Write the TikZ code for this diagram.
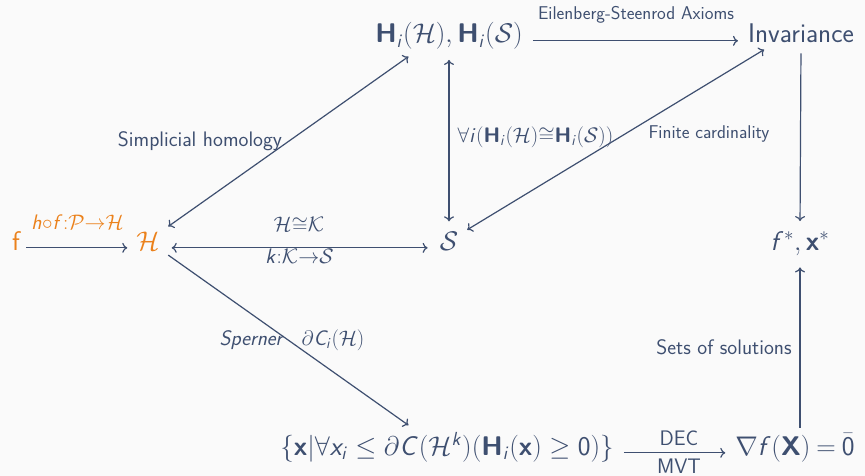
\RequirePackage{fix-cm}
\documentclass[tikz,border=0pt]{standalone}
\usepackage{amsmath}
\usetikzlibrary{arrows.meta}
\DeclareMathAlphabet{\msi}{OT1}{cmss}{m}{sl}
\DeclareMathAlphabet{\msb}{OT1}{cmss}{bx}{n}
\DeclareMathAlphabet{\msr}{OT1}{cmss}{m}{n}
\definecolor{txt}{HTML}{3E4F70}
\definecolor{org}{HTML}{EB811B}
\definecolor{bg}{HTML}{FAFAFA}
\begin{document}
\begin{tikzpicture}[x=1pt,y=-1pt,
  mainnode/.style={text=txt, font=\sffamily\fontsize{27}{32}\selectfont, inner sep=2pt, anchor=base},
  lbl/.style={text=txt, font=\sffamily\fontsize{21}{25}\selectfont, inner sep=1pt},
  slbl/.style={text=txt, font=\sffamily\fontsize{18.5}{22}\selectfont, inner sep=1pt},
  arr/.style={draw=txt, line width=1.2pt, -{To[length=5pt,width=10pt]}, shorten <=8pt, shorten >=8pt},
  barr/.style={draw=txt, line width=1.2pt, {To[length=5pt,width=10pt]}-{To[length=5pt,width=10pt]}, shorten <=8pt, shorten >=8pt},
]
\fill[bg] (0,0) rectangle (865,476);
\useasboundingbox (0,0) rectangle (865,476);

\node[mainnode, text=org] (f) at (16,250) {f};
\node[mainnode, text=org] (H) at (148,250) {$\mathcal{H}$};
\node[mainnode] (Hi) at (449,43) {$\msb{H}_{\msi{i}}(\mathcal{H}),\msb{H}_{\msi{i}}(\mathcal{S})$};
\node[mainnode] (Inv) at (801,43) {Invariance};
\node[mainnode] (S) at (449,250) {$\mathcal{S}$};
\node[mainnode] (fx) at (800,250) {$\msi{f}^*,\msb{x}^*$};
\node[mainnode] (set) at (447,455) {$\{\msb{x}|\forall \msi{x}_{\msi{i}}\leq\partial \msi{C}(\mathcal{H}^{\msi{k}})(\msb{H}_{\msi{i}}(\msb{x})\geq \msr{0})\}$};
\node[mainnode] (grad) at (795,455) {$\thickmuskip=4mu\nabla \msi{f}(\msb{X})=\bar{\msr{0}}$};

% connectors
\draw[arr, shorten <=4pt, shorten >=7pt] (f.mid east) -- (H.mid west);
\draw[arr, shorten <=8pt, shorten >=8pt] (Hi.mid east) -- (Inv.mid west);
\draw[barr] ([xshift=-34pt]Hi.south) -- (H);
\draw[barr] (Hi.south -| S.north) -- (S.north);
\draw[barr] ([xshift=-30pt]Inv.south) -- (S);
\draw[arr] (Inv.south) -- (fx.north);
\draw[barr, shorten <=10pt, shorten >=10pt] (H.mid east) -- (S.mid west);
\draw[arr] (H) -- ([xshift=-32pt]set.north);
\draw[arr, shorten <=8pt, shorten >=8pt] (set.mid east) -- (grad.mid west);
\draw[arr, shorten <=4pt, shorten >=10pt] (grad.north -| fx.south) -- (fx.south);

% labels
\node[lbl, text=org] (lf) at (77.5,222) {$\msi{h}{\circ}\msi{f}{:}\mathcal{P}{\to}\mathcal{H}$};
\node[slbl] (les) at (636,15) {Eilenberg-Steenrod Axioms};
\node[lbl] (lsh) at (200,141) {Simplicial homology};
\node[lbl] (lfa) at (535.5,137) {$\forall \msi{i}(\msb{H}_{\msi{i}}(\mathcal{H}){\cong}\msb{H}_{\msi{i}}(\mathcal{S}))$};
\node[slbl] (lfc) at (709,134) {Finite cardinality};
\node[lbl] (lhk) at (299,225) {$\mathcal{H}{\cong}\mathcal{K}$};
\node[lbl] (lk) at (299.5,256) {$\msi{k}{:}\mathcal{K}{\to}\mathcal{S}$};
\node[lbl] (lsp) at (251,340) {\itshape Sperner};
\node[lbl] (lci) at (333,340) {$\partial \msi{C}_{\msi{i}}(\mathcal{H})$};
\node[lbl] (lss) at (724,347) {Sets of solutions};
\node[lbl] (ldec) at (679,438) {DEC};
\node[lbl] (lmvt) at (679,466) {MVT};
\end{tikzpicture}
\end{document}
